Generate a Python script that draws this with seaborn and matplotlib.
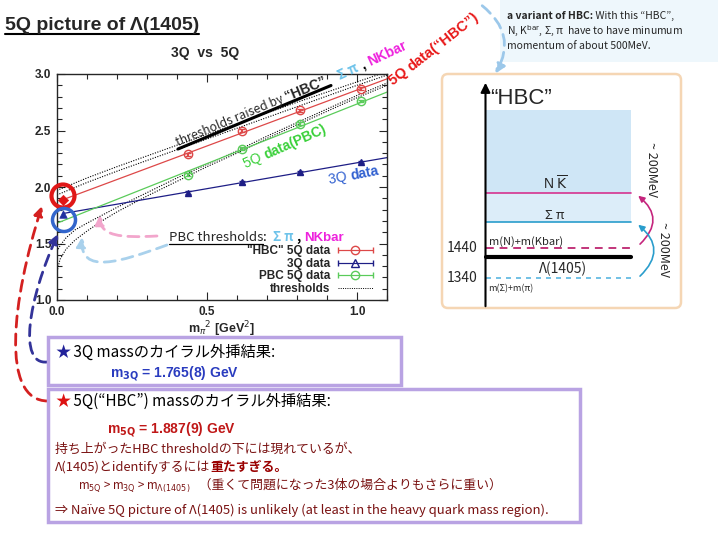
import numpy as np
import matplotlib
matplotlib.use("Agg")
import matplotlib.pyplot as plt
import seaborn as sns
from matplotlib.patches import FancyBboxPatch, Circle, Rectangle, FancyArrowPatch
from matplotlib.path import Path
from matplotlib.legend_handler import HandlerErrorbar
from matplotlib.container import ErrorbarContainer

# ---------------- data ----------------
mpi2 = [0.436, 0.618, 0.810, 1.012]
hbc5q = [2.29, 2.50, 2.68, 2.87]
q3 = [1.95, 2.04, 2.13, 2.22]
pbc5q = [2.11, 2.34, 2.56, 2.76]
mass_err = [0.012, 0.012, 0.012, 0.012]
mpi2_chiral = [0.019]
hbc5q_chiral = [1.887]
q3_chiral = [1.765]
fit_x = [0.019, 1.1]
hbc5q_fit = [1.887, 2.957]
q3_fit = [1.765, 2.26]
pbc_fit_x = [0.0, 1.1]
pbc5q_fit = [1.68, 2.84]
thr_hbc_x = [0.0, 0.1, 0.2, 0.4, 0.6, 0.8, 1.0, 1.1]
thr_hbc_sigpi = [1.93, 2.04, 2.14, 2.33, 2.52, 2.71, 2.90, 2.99]
thr_hbc_nkbar = [1.97, 2.08, 2.18, 2.37, 2.56, 2.75, 2.93, 3.02]
thr_pbc_x = [0.0, 0.01, 0.03, 0.06, 0.1, 0.15, 0.2, 0.3, 0.4, 0.5, 0.6, 0.7, 0.8, 0.9, 1.0, 1.1]
thr_pbc_sigpi = [1.25, 1.36, 1.45, 1.53, 1.61, 1.70, 1.78, 1.92, 2.05, 2.18, 2.30, 2.43, 2.55, 2.67, 2.79, 2.90]
thr_pbc_nkbar = [1.43, 1.48, 1.55, 1.62, 1.68, 1.75, 1.82, 1.95, 2.08, 2.20, 2.32, 2.45, 2.57, 2.69, 2.81, 2.92]
x_ticks = [0.0, 0.5, 1.0]
x_ticklabels = ["0.0", "0.5", "1.0"]
y_ticks = [1.0, 1.5, 2.0, 2.5, 3.0]
y_ticklabels = ["1.0", "1.5", "2.0", "2.5", "3.0"]
legend_labels = ['"HBC" 5Q data', '3Q data', 'PBC 5Q data', 'thresholds']
level_labels = ["1440", "1340"]

RED = "#dd4848"
BLUE = "#1e1e86"
GREEN = "#5acb5a"
JP = ["Noto Sans CJK JP", "DejaVu Sans"]
LAT = ["Liberation Sans", "Noto Sans CJK JP", "DejaVu Sans"]

sns.set_style("ticks")
plt.rcParams["font.family"] = LAT
plt.rcParams["mathtext.fontset"] = "dejavusans"

fig = plt.figure(figsize=(7.2, 5.4), dpi=100)
fig.patch.set_facecolor("white")
ax = fig.add_axes([57 / 720, 1 - 300 / 540, 330 / 720, 226 / 540])

# thresholds
for ys in [thr_hbc_sigpi, thr_hbc_nkbar]:
    sns.lineplot(x=thr_hbc_x, y=ys, ax=ax, color="black", lw=0.8,
                 linestyle=(0, (1, 1.3)), estimator=None, sort=False)
for ys in [thr_pbc_sigpi, thr_pbc_nkbar]:
    sns.lineplot(x=thr_pbc_x, y=ys, ax=ax, color="black", lw=0.8,
                 linestyle=(0, (1, 1.3)), estimator=None, sort=False)
# fits
sns.lineplot(x=fit_x, y=hbc5q_fit, ax=ax, color=RED, lw=0.9)
sns.lineplot(x=fit_x, y=q3_fit, ax=ax, color=BLUE, lw=0.9)
sns.lineplot(x=pbc_fit_x, y=pbc5q_fit, ax=ax, color=GREEN, lw=0.9)
# data points
ax.errorbar(mpi2, hbc5q, yerr=mass_err, fmt="o", mfc="none", mec=RED, ecolor=RED,
            ms=6, mew=1.0, capsize=2, zorder=4)
ax.errorbar(mpi2, pbc5q, yerr=mass_err, fmt="o", mfc="none", mec=GREEN, ecolor=GREEN,
            ms=6, mew=1.0, capsize=2, zorder=4)
ax.errorbar(mpi2, q3, yerr=mass_err, fmt="^", mfc=BLUE, mec=BLUE, ecolor=BLUE,
            ms=5, mew=1.0, capsize=2, zorder=4)
sns.scatterplot(x=mpi2_chiral, y=hbc5q_chiral, ax=ax, marker="D", color="#e01515",
                s=28, edgecolor="#e01515", zorder=6)
sns.scatterplot(x=mpi2_chiral, y=q3_chiral, ax=ax, marker="^", color="#2030a0",
                s=30, edgecolor="#2030a0", zorder=6)

ax.set_xlim(0, 1.1)
ax.set_ylim(1.0, 3.0)
ax.set_xticks(x_ticks)
ax.set_xticklabels(x_ticklabels, fontsize=8.5, fontweight="bold")
ax.set_yticks(y_ticks)
ax.set_yticklabels(y_ticklabels, fontsize=8.5, fontweight="bold")
ax.xaxis.set_minor_locator(matplotlib.ticker.MultipleLocator(0.1))
ax.yaxis.set_minor_locator(matplotlib.ticker.MultipleLocator(0.1))
ax.tick_params(which="both", direction="in", top=True, right=True, width=0.8)
ax.tick_params(which="major", length=6, pad=4)
ax.tick_params(which="minor", length=3.5)
for s in ax.spines.values():
    s.set_linewidth(1.0)
ax.set_xlabel(r"m$_{\pi}$$^{2}$ [GeV$^{2}$]", fontsize=9, fontweight="bold", labelpad=1)

# legend
handles = []
for c, mk in [(RED, "o"), (BLUE, "^"), (GREEN, "o")]:
    h = ax.errorbar([np.nan], [np.nan], xerr=[np.nan], fmt="-" + mk, color=c, mfc="none",
                    mec=c, ms=6, lw=0.8, capsize=2.5)
    handles.append(h)
thr_h, = ax.plot([], [], color="black", lw=0.7, linestyle=(0, (1, 1.3)))
handles.append(thr_h)
ax.legend(handles, legend_labels, loc="lower right", frameon=False,
          bbox_to_anchor=((373 - 57) / 330, 5 / 226), borderpad=0, borderaxespad=0,
          markerfirst=False, handlelength=3.0, handletextpad=0.6, labelspacing=0.05,
          prop={"weight": "bold", "size": 8.5},
          handler_map={ErrorbarContainer: HandlerErrorbar(xerr_size=1.5)})

# ---------------- overlay (slide decorations) ----------------
ov = fig.add_axes([0, 0, 1, 1], zorder=10)
ov.set_xlim(0, 720)
ov.set_ylim(540, 0)
ov.axis("off")
ov.patch.set_alpha(0)
R = fig.canvas.get_renderer()


def seq(x, y, parts, **common):
    for s, kw in parts:
        k = dict(common)
        k.update(kw)
        t = ov.text(x, y, s, ha="left", va="baseline", **k)
        x = t.get_window_extent(renderer=R).x1
    return x


def rotseq(x, y, ang, parts, **common):
    """Place text pieces one after another along a slanted baseline."""
    ca, sa = np.cos(np.radians(ang)), np.sin(np.radians(ang))
    for s, kw in parts:
        k = dict(common)
        k.update(kw)
        tmp = ov.text(0, 0, s, ha="left", va="baseline", **k)
        w = tmp.get_window_extent(renderer=R).width
        tmp.remove()
        ov.text(x, y, s, ha="left", va="baseline", rotation=ang,
                rotation_mode="anchor", **k)
        x += w * ca
        y -= w * sa


# title
t = ov.text(5, 30, "5Q picture of Λ(1405)", fontsize=14, fontweight="bold",
            ha="left", va="baseline", family=LAT)
bb = t.get_window_extent(renderer=R)
ov.plot([bb.x0, bb.x1], [34, 34], color="black", lw=1.5)
ov.text(205, 57, "3Q  vs  5Q", fontsize=10, fontweight="bold", ha="center", va="baseline")

# top right note
ov.add_patch(Rectangle((500, 0), 218, 62, fc="#eef7fc", ec="none"))
seq(507, 19, [("a variant of HBC:", {"fontweight": "bold"}),
              (" With this “HBC”,", {})], fontsize=7.5, family=JP)
ov.text(507, 34, "N, K$^{\\rm bar}$, Σ, π  have to have minumum", fontsize=7.5,
        family=JP, ha="left", va="baseline")
ov.text(507, 49, "momentum of about 500MeV.", fontsize=7.5, family=JP,
        ha="left", va="baseline")

# in-plot annotations
rotseq(178, 146, 22.6, [("thresholds raised by ", {"family": JP, "fontsize": 8.8}),
                        ("“HBC”", {"fontweight": "bold", "fontsize": 10, "family": LAT})])
ov.plot([178, 331], [149, 85.5], color="black", lw=2.2)
rotseq(340, 80, 25, [("Σ π", {"color": "#6ec3ea", "family": JP, "fontweight": "bold"}),
                     (" , ", {"color": "black", "fontweight": "bold"}),
                     ("NKbar", {"color": "#ee22dd", "fontweight": "bold"})], fontsize=10)
rotseq(393, 86, 38, [("5Q ", {}), ("data(“HBC”)", {})], fontsize=10.5,
       fontweight="bold", color="#e81818")
rotseq(246, 168, 24, [("5Q ", {}), ("data(PBC)", {"fontweight": "bold"})], fontsize=10,
       color="#3ad03a")
rotseq(329, 184, 11, [("3Q ", {}), ("data", {"fontweight": "bold"})], fontsize=10,
       color="#2f5fd0")

t = ov.text(169, 241, "PBC thresholds", fontsize=9.5, ha="left", va="baseline", family=JP)
bb = t.get_window_extent(renderer=R)
ov.plot([bb.x0, bb.x1], [243.5, 243.5], color="black", lw=0.9)
seq(bb.x1, 241, [(":  ", {"color": "black"}),
                 ("Σ π", {"color": "#6ec3ea", "fontweight": "bold"}),
                 (" , ", {"color": "black", "fontweight": "bold"}),
                 ("NKbar", {"color": "#ee22dd", "fontweight": "bold", "family": LAT})],
    fontsize=9.5, family=JP)

# circles
ov.add_patch(Circle((63, 196), 11.5, fill=False, ec="#e01818", lw=3))
ov.add_patch(Circle((64, 220), 11.5, fill=False, ec="#3366cc", lw=2.5))


# dashed arrows
def darrow(p0, p1, color, rad, lw=2.0):
    a = FancyArrowPatch(p0, p1, connectionstyle=f"arc3,rad={rad}", arrowstyle="-|>",
                        mutation_scale=14, color=color, lw=lw, linestyle=(0, (4, 2.5)))
    ov.add_patch(a)


def parrow(verts, color, lw=2.0):
    codes = [Path.MOVETO] + [Path.CURVE4] * (len(verts) - 1)
    a = FancyArrowPatch(path=Path(verts, codes), arrowstyle="-|>", mutation_scale=14,
                        color=color, lw=lw, linestyle=(0, (4, 2.5)))
    ov.add_patch(a)


parrow([(157, 236), (120, 238), (100, 236), (100, 215)], "#f2a6cc")
parrow([(167, 245), (120, 262), (80, 275), (82, 237)], "#a9d1ec")
darrow((480, 4), (494, 76), "#9cc8ea", -0.45)
parrow([(48, 401), (0, 401), (12, 300), (42, 206)], "#d42020")
parrow([(47, 362), (18, 365), (28, 300), (58, 234)], "#333399")

# right diagram
ov.add_patch(FancyBboxPatch((442, 74), 239, 234, boxstyle="round,pad=0,rounding_size=6",
                            fc="white", ec="#f5d6b4", lw=1.8))
ov.add_patch(Rectangle((486, 110), 145, 83, fc="#cfe6f6", ec="none"))
ov.add_patch(Rectangle((486, 193), 145, 29, fc="#dcedf9", ec="none"))
ov.annotate("", xy=(485.5, 80), xytext=(485.5, 309),
            arrowprops=dict(arrowstyle="-|>", color="black", lw=1.5, mutation_scale=14))
ov.text(490, 104, "“HBC”", fontsize=16, ha="left", va="baseline", family=LAT)
ov.plot([486, 631], [193, 193], color="#d6338f", lw=1.2)
ov.plot([486, 631], [222, 222], color="#2a9dcc", lw=1.2)
ov.text(556, 190, r"N $\overline{\mathrm{K}}$", fontsize=10, ha="center", va="baseline")
ov.text(555, 219, "Σ π", fontsize=9.5, ha="center", va="baseline", family=JP)
ov.plot([486, 631], [248, 248], color="#c2357a", lw=1.4, linestyle=(0, (4, 3)))
ov.text(489, 245, "m(N)+m(Kbar)", fontsize=8, ha="left", va="baseline", family=JP)
ov.text(477, 252, level_labels[0], fontsize=10, ha="right", va="baseline", family=JP)
ov.plot([486, 631], [257, 257], color="black", lw=3)
ov.text(563, 273, "Λ(1405)", fontsize=10, ha="center", va="baseline", family=JP)
ov.plot([486, 631], [278, 278], color="#5ab6e0", lw=1.2, linestyle=(0, (3, 3)))
ov.text(477, 282, level_labels[1], fontsize=10, ha="right", va="baseline", family=JP)
ov.text(488, 291, "m(Σ)+m(π)", fontsize=6.5, ha="left", va="baseline", family=JP)
ov.add_patch(FancyArrowPatch((638, 246), (636, 194), connectionstyle="arc3,rad=0.6",
                             arrowstyle="-|>", mutation_scale=9, color="#c5257d", lw=1.2))
ov.add_patch(FancyArrowPatch((638, 278), (636, 223), connectionstyle="arc3,rad=0.6",
                             arrowstyle="-|>", mutation_scale=9, color="#2a9dcc", lw=1.2))
ov.text(652, 170, "~ 200MeV", rotation=-90, fontsize=9, ha="center", va="center", family=JP)
ov.text(664, 250, "~ 200MeV", rotation=-90, fontsize=9, ha="center", va="center", family=JP)

# bottom boxes
ov.add_patch(Rectangle((48, 337), 353, 48, fc="white", ec="#b9a3e3", lw=2.5))
ov.add_patch(Rectangle((48, 389), 532, 133, fc="white", ec="#b9a3e3", lw=2.5))
seq(55, 357, [("★", {"color": "#22229a"}),
              (" 3Q massのカイラル外挿結果:", {"color": "black"})], fontsize=11, family=JP)
ov.text(110, 377, r"m$_{\mathbf{3Q}}$ = 1.765(8) GeV", fontsize=10, fontweight="bold",
        color="#2a3cbf", ha="left", va="baseline", family=LAT)
seq(55, 406, [("★", {"color": "#dd1111"}),
              (" 5Q(“HBC”) massのカイラル外挿結果:", {"color": "black"})], fontsize=11, family=JP)
ov.text(107, 433, r"m$_{\mathbf{5Q}}$ = 1.887(9) GeV", fontsize=10, fontweight="bold",
        color="#c01818", ha="left", va="baseline", family=LAT)
MAR = "#7a1212"
ov.text(55, 453, "持ち上がったHBC thresholdの下には現れているが、", fontsize=9.3, color=MAR,
        ha="left", va="baseline", family=JP)
seq(55, 471, [("Λ(1405)とidentifyするには", {}),
              ("重たすぎる。", {"fontweight": "bold", "color": "#9a0000"})],
    fontsize=9.3, color=MAR, family=JP)
seq(78, 489, [(r"m$_{\rm 5Q}$ > m$_{\rm 3Q}$ > m$_{\Lambda(1405)}$", {"fontsize": 8.3}),
              ("   （重くて問題になった3体の場合よりもさらに重い）", {})],
    fontsize=9.3, color=MAR, family=JP)
ov.text(55, 514, "⇒ Naïve 5Q picture of Λ(1405) is unlikely (at least in the heavy quark mass region).",
        fontsize=9.4, color=MAR, ha="left", va="baseline", family=JP)

fig.savefig("out.png", dpi=100)
